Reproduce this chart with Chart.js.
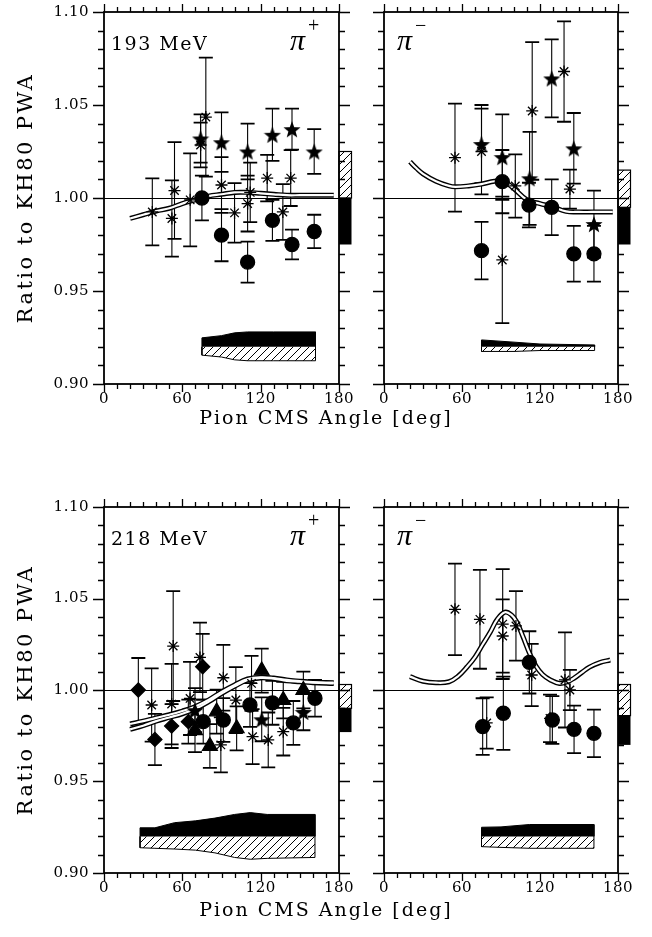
<!DOCTYPE html>
<html>
<head>
<meta charset="utf-8">
<script src="https://cdn.jsdelivr.net/npm/chart.js@4.4.1/dist/chart.umd.min.js"></script>
<style>
  body { margin: 0; background: #fff; }
  #page { position: relative; width: 652px; height: 937px; overflow: hidden; background: #fff; }
  canvas { position: absolute; }
  .xtitle { position: absolute; left: 0; width: 652px; text-align: center; font-family: "DejaVu Serif", serif; font-size: 19px; letter-spacing: 2px; color: #000; }
</style>
</head>
<body>
<div id="page">
  <canvas id="tl" width="362" height="440" style="left:0;top:0"></canvas>
  <canvas id="tr" width="290" height="440" style="left:362px;top:0"></canvas>
  <canvas id="bl" width="362" height="442" style="left:0;top:495px"></canvas>
  <canvas id="br" width="290" height="442" style="left:362px;top:495px"></canvas>
  <div class="xtitle" style="top:406px">Pion CMS Angle [deg]</div>
  <div class="xtitle" style="top:898px">Pion CMS Angle [deg]</div>
</div>
<script>
// axis ticks
var xMajor = [0, 60, 120, 180];
var yMajor = [0.90, 0.95, 1.00, 1.05, 1.10];
var bandBase = 0.92;

// ---- 193 MeV, pi+ ----
var tlStarX = [74, 90, 110, 129, 144, 161];
var tlStarY = [1.032, 1.030, 1.025, 1.034, 1.037, 1.025];
var tlStarE = [0.013, 0.016, 0.015, 0.014, 0.011, 0.012];
var tlCircX = [75, 90, 110, 129, 144, 161];
var tlCircY = [1.000, 0.980, 0.9655, 0.988, 0.975, 0.982];
var tlCircE = [0.012, 0.014, 0.011, 0.011, 0.008, 0.009];
var tlAstX = [37, 52, 54, 66, 74, 78, 90, 100, 110, 112, 125, 137, 143];
var tlAstY = [0.9925, 0.989, 1.004, 0.999, 1.0285, 1.0435, 1.007, 0.992, 0.997, 1.003, 1.0107, 0.9925, 1.0107];
var tlAstE = [0.018, 0.0205, 0.026, 0.025, 0.012, 0.032, 0.015, 0.016, 0.015, 0.016, 0.0125, 0.015, 0.015];
var tlCurveX = [20, 30, 40, 50, 60, 70, 80, 90, 100, 110, 120, 130, 140, 150, 160, 170, 176];
var tlCurveY = [0.989, 0.991, 0.993, 0.9945, 0.997, 0.999, 1.001, 1.002, 1.003, 1.003, 1.0025, 1.002, 1.0015, 1.0015, 1.0015, 1.0015, 1.0015];
var tlBandX = [75, 90, 100, 110, 130, 162];
var tlBlackTop = [0.9248, 0.926, 0.9275, 0.928, 0.928, 0.928];
var tlHatchBot = [0.9155, 0.9145, 0.913, 0.9125, 0.9125, 0.9125];
var tlSysHatch = [1.0, 1.025];
var tlSysBlack = [0.975, 1.0];

// ---- 193 MeV, pi- ----
var trStarX = [75, 91, 112, 129, 146, 161.5];
var trStarY = [1.029, 1.022, 1.0106, 1.0643, 1.0267, 0.986];
var trStarE = [0.021, 0.023, 0.025, 0.021, 0.019, 0.018];
var trCircX = [75, 91, 111.5, 129, 146, 161.5];
var trCircY = [0.9717, 1.0088, 0.9962, 0.995, 0.970, 0.970];
var trCircE = [0.0155, 0.017, 0.012, 0.015, 0.015, 0.015];
var trAstX = [54.6, 75, 91, 101, 114, 138.5, 143];
var trAstY = [1.0217, 1.025, 0.9667, 1.0065, 1.0468, 1.068, 1.0048];
var trAstE = [0.029, 0.023, 0.034, 0.017, 0.037, 0.027, 0.0105];
var trCurveX = [20, 25, 30, 40, 50, 55, 65, 75, 85, 92, 100, 110, 120, 130, 140, 150, 160, 176];
var trCurveY = [1.0195, 1.016, 1.013, 1.009, 1.0065, 1.006, 1.0065, 1.0075, 1.009, 1.009, 1.005, 0.999, 0.997, 0.9952, 0.9928, 0.9925, 0.9925, 0.9925];
var trBandX = [75, 100, 120, 162];
var trBlackTop = [0.9237, 0.9225, 0.9215, 0.921];
var trHatchBot = [0.9175, 0.9175, 0.918, 0.918];
var trSysHatch = [0.995, 1.015];
var trSysBlack = [0.975, 0.995];

// ---- 218 MeV, pi+ ----
var blDiaX = [26.3, 39, 51.8, 64.6, 75.6];
var blDiaY = [1.000, 0.973, 0.9803, 0.9827, 1.0127];
var blDiaE = [0.0175, 0.014, 0.012, 0.012, 0.018];
var blAstX = [36.5, 51.8, 53, 65.9, 73.5, 89.5, 91.4, 101, 113, 113.8, 125.8, 137.3];
var blAstY = [0.9918, 0.9923, 1.024, 0.9954, 1.0178, 0.970, 1.0067, 0.9945, 1.0036, 0.9745, 0.9727, 0.9772];
var blAstE = [0.02, 0.022, 0.030, 0.02, 0.019, 0.015, 0.018, 0.018, 0.015, 0.015, 0.015, 0.013];
var blTriX = [69.7, 81.1, 86.3, 101.6, 120.8, 137.3, 152.7];
var blTriY = [0.978, 0.9694, 0.9882, 0.979, 1.0106, 0.9945, 1.000];
var blTriE = [0.012, 0.012, 0.012, 0.012, 0.012, 0.010, 0.010];
var blCircX = [76, 91.4, 111.8, 129, 145, 161.6];
var blCircY = [0.9827, 0.9836, 0.9918, 0.993, 0.982, 0.9955];
var blCircE = [0.012, 0.012, 0.012, 0.012, 0.012, 0.010];
var blStarX = [69.7, 120.8, 152.7];
var blStarY = [0.989, 0.984, 0.988];
var blStarE = [0.012, 0.012, 0.010];
var blCurveX = [20, 30, 40, 50, 60, 70, 80, 90, 100, 110, 120, 130, 140, 150, 160, 176];
var blCurveY = [0.9814, 0.983, 0.9848, 0.9865, 0.9885, 0.991, 0.9945, 0.999, 1.0028, 1.006, 1.0069, 1.0065, 1.0055, 1.0048, 1.0043, 1.004];
var blCurve2Y = [0.9785, 0.9805, 0.983, 0.985, 0.987, 0.9897, 0.9935, 0.998, 1.002, 1.0055, 1.0066, 1.0062, 1.005, 1.0045, 1.004, 1.0036];
var blBandX = [27.6, 39, 54, 70, 85, 100, 112, 125, 161.6];
var blBlackTop = [0.9247, 0.9247, 0.9275, 0.9285, 0.930, 0.932, 0.933, 0.932, 0.932];
var blHatchBot = [0.9138, 0.9135, 0.9131, 0.9125, 0.911, 0.9085, 0.9075, 0.908, 0.9085];
var blSysHatch = [0.99, 1.003];
var blSysBlack = [0.977, 0.99];

// ---- 218 MeV, pi- ----
var brAstX = [54.6, 73.8, 79, 91.3, 91.3, 101.5, 113.6, 127.7, 139.2, 143];
var brAstY = [1.0441, 1.0386, 0.982, 1.036, 1.0295, 1.035, 1.0082, 0.9845, 1.0055, 1.000];
var brAstE = [0.025, 0.027, 0.014, 0.03, 0.02, 0.019, 0.017, 0.013, 0.026, 0.011];
var brCircX = [75.9, 91.8, 111.8, 129.5, 146.2, 161.5];
var brCircY = [0.980, 0.9873, 1.0151, 0.9836, 0.9785, 0.9763];
var brCircE = [0.0155, 0.02, 0.017, 0.013, 0.013, 0.013];
var brCurveX = [20, 30, 40, 50, 57, 64, 70, 76, 82, 87, 93, 98, 102, 107, 112, 117, 122, 128, 135, 141, 146, 152, 158, 166, 174];
var brCurveY = [1.0073, 1.0048, 1.004, 1.0045, 1.0075, 1.0127, 1.018, 1.025, 1.032, 1.0385, 1.0425, 1.041, 1.0373, 1.029, 1.020, 1.013, 1.0085, 1.0055, 1.0036, 1.0045, 1.0064, 1.0095, 1.0125, 1.015, 1.0164];
var brBandX = [75, 90, 112, 161.5];
var brBlackTop = [0.925, 0.9252, 0.9265, 0.9265];
var brHatchBot = [0.9144, 0.914, 0.9135, 0.9135];
var brSysHatch = [0.986, 1.003];
var brSysBlack = [0.97, 0.986];

function pts(xs, ys) {
  return xs.map(function (x, i) { return { x: x, y: ys[i] }; });
}

function makeStar(size) {
  var c = document.createElement("canvas");
  c.width = size;
  c.height = size;
  var g = c.getContext("2d");
  var cx = size / 2, cy = size / 2 + 1, ro = size / 2, ri = ro * 0.42;
  g.beginPath();
  for (var k = 0; k < 10; k++) {
    var r = k % 2 ? ri : ro;
    var a = -Math.PI / 2 + k * Math.PI / 5;
    g.lineTo(cx + r * Math.cos(a), cy + r * Math.sin(a));
  }
  g.closePath();
  g.fillStyle = "#000";
  g.fill();
  return c;
}

function makeHatch() {
  var c = document.createElement("canvas");
  c.width = 8;
  c.height = 8;
  var g = c.getContext("2d");
  g.strokeStyle = "#000";
  g.lineWidth = 1;
  g.beginPath();
  g.moveTo(0, 8); g.lineTo(8, 0);
  g.moveTo(-2, 2); g.lineTo(2, -2);
  g.moveTo(6, 10); g.lineTo(10, 6);
  g.stroke();
  return g.createPattern(c, "repeat");
}

var starImg = makeStar(18);
var hatch = makeHatch();

function markers(xs, ys, errs, style, radius) {
  return {
    data: pts(xs, ys), errs: errs, showLine: false,
    pointStyle: style, pointRadius: radius, pointHoverRadius: radius,
    pointBackgroundColor: "#000", pointBorderColor: "#000", pointBorderWidth: 1.3,
    order: 1
  };
}

function curve(xs, ys) {
  return [
    { data: pts(xs, ys), borderColor: "#000", borderWidth: 5, pointRadius: 0, tension: 0.4, fill: false, order: 20 },
    { data: pts(xs, ys), borderColor: "#fff", borderWidth: 2.2, pointRadius: 0, tension: 0.4, fill: false, order: 19 }
  ];
}

function band(xs, ys, color) {
  var d = [{ x: xs[0], y: bandBase }].concat(pts(xs, ys), [{ x: xs[xs.length - 1], y: bandBase }]);
  return { data: d, borderColor: "#000", borderWidth: 1, backgroundColor: color, fill: { value: bandBase }, pointRadius: 0, tension: 0, order: 30 };
}

var textFont = "'DejaVu Serif', serif";

var panelPlugin = {
  id: "panel",
  beforeDatasetsDraw: function (chart, args, opts) {
    var ctx = chart.ctx, a = chart.chartArea, xs = chart.scales.x, ys = chart.scales.y;
    ctx.save();
    ctx.strokeStyle = "#000";
    ctx.lineWidth = 1.2;
    var y1 = Math.round(ys.getPixelForValue(1.0)) + 0.5;
    ctx.beginPath();
    ctx.moveTo(a.left, y1);
    ctx.lineTo(a.right, y1);
    ctx.stroke();
    // error bars
    ctx.lineWidth = 1.1;
    chart.data.datasets.forEach(function (ds) {
      if (!ds.errs) return;
      ds.data.forEach(function (p, i) {
        var x = xs.getPixelForValue(p.x);
        var yt = ys.getPixelForValue(p.y + ds.errs[i]);
        var yb = ys.getPixelForValue(p.y - ds.errs[i]);
        ctx.beginPath();
        ctx.moveTo(x, yt); ctx.lineTo(x, yb);
        ctx.stroke();
        ctx.save();
        ctx.lineWidth = 1.8;
        ctx.beginPath();
        ctx.moveTo(x - 7, yt); ctx.lineTo(x + 7, yt);
        ctx.moveTo(x - 7, yb); ctx.lineTo(x + 7, yb);
        ctx.stroke();
        ctx.restore();
      });
    });
    ctx.restore();
  },
  afterDraw: function (chart, args, opts) {
    var ctx = chart.ctx, a = chart.chartArea, xs = chart.scales.x, ys = chart.scales.y;
    ctx.save();
    ctx.strokeStyle = "#000";
    ctx.fillStyle = "#000";

    // systematic boxes at 180 deg
    var bx0 = xs.getPixelForValue(180), bx1 = bx0 + 12.5;
    var hy0 = ys.getPixelForValue(opts.sysHatch[1]), hy1 = ys.getPixelForValue(opts.sysHatch[0]);
    ctx.fillStyle = "#fff";
    ctx.fillRect(bx0, hy0, bx1 - bx0, hy1 - hy0);
    ctx.fillStyle = hatch;
    ctx.fillRect(bx0, hy0, bx1 - bx0, hy1 - hy0);
    ctx.lineWidth = 1.2;
    ctx.strokeRect(bx0, hy0, bx1 - bx0, hy1 - hy0);
    var ky0 = ys.getPixelForValue(opts.sysBlack[1]), ky1 = ys.getPixelForValue(opts.sysBlack[0]);
    ctx.fillStyle = "#000";
    ctx.fillRect(bx0, ky0, bx1 - bx0, ky1 - ky0);

    // frame
    ctx.lineWidth = 1.8;
    ctx.strokeRect(a.left, a.top, a.right - a.left, a.bottom - a.top);

    // ticks, outward on all sides
    ctx.lineWidth = 1.3;
    ctx.beginPath();
    for (var d = 0; d <= 180; d += 10) {
      var px = Math.round(xs.getPixelForValue(d)) + 0.5;
      var len = d % 60 === 0 ? 8 : 5;
      ctx.moveTo(px, a.bottom); ctx.lineTo(px, a.bottom + len);
      ctx.moveTo(px, a.top); ctx.lineTo(px, a.top - len);
    }
    for (var k = 0; k <= 20; k++) {
      var py = Math.round(ys.getPixelForValue(0.90 + k * 0.01)) + 0.5;
      var ylen = k % 5 === 0 ? 11 : 6;
      ctx.moveTo(a.left - ylen, py); ctx.lineTo(a.left, py);
      ctx.moveTo(a.right, py); ctx.lineTo(a.right + ylen, py);
    }
    ctx.stroke();

    // tick labels
    ctx.fillStyle = "#000";
    ctx.font = "15px " + textFont;
    ctx.letterSpacing = "0.5px";
    ctx.textAlign = "center";
    ctx.textBaseline = "top";
    xMajor.forEach(function (v) {
      ctx.fillText(String(v), xs.getPixelForValue(v), a.bottom + 8);
    });
    if (opts.yLabels) {
      ctx.textAlign = "right";
      ctx.textBaseline = "middle";
      yMajor.forEach(function (v) {
        ctx.fillText(v.toFixed(2), a.left - 15, ys.getPixelForValue(v));
      });
      ctx.save();
      ctx.translate(27, (a.top + a.bottom) / 2);
      ctx.rotate(-Math.PI / 2);
      ctx.textAlign = "center";
      ctx.textBaseline = "middle";
      ctx.font = "21px " + textFont;
      ctx.letterSpacing = "2.5px";
      ctx.fillText("Ratio to KH80 PWA", 0, 0);
      ctx.restore();
    }

    // in-panel labels
    ctx.textBaseline = "alphabetic";
    ctx.textAlign = "left";
    if (opts.energy) {
      ctx.font = "19px " + textFont;
      ctx.letterSpacing = "1.5px";
      ctx.fillText(opts.energy, a.left + 7, a.top + 38);
    }
    ctx.letterSpacing = "0px";
    ctx.font = "italic 30px 'Liberation Serif', serif";
    ctx.fillText("\u03c0", a.left + opts.piX, a.top + 38);
    ctx.font = "20px 'Liberation Serif', serif";
    ctx.fillText(opts.charge, a.left + opts.piX + 18, a.top + 20);
    ctx.restore();
  }
};

function makePanel(id, pad, datasets, opts) {
  return new Chart(document.getElementById(id), {
    type: "line",
    data: { datasets: datasets },
    options: {
      responsive: false,
      animation: false,
      events: [],
      layout: { padding: pad },
      scales: {
        x: { type: "linear", min: 0, max: 180, display: false },
        y: { type: "linear", min: 0.90, max: 1.10, display: false }
      },
      plugins: { legend: { display: false }, tooltip: { enabled: false }, panel: opts }
    },
    plugins: [panelPlugin]
  });
}

makePanel("tl", { left: 104, right: 23, top: 12, bottom: 56 },
  [
    markers(tlStarX, tlStarY, tlStarE, starImg, 9),
    markers(tlCircX, tlCircY, tlCircE, "circle", 7),
    markers(tlAstX, tlAstY, tlAstE, "star", 6)
  ].concat(curve(tlCurveX, tlCurveY), [band(tlBandX, tlBlackTop, "#000"), band(tlBandX, tlHatchBot, hatch)]),
  { yLabels: true, energy: "193 MeV", piX: 186, charge: "+", sysHatch: tlSysHatch, sysBlack: tlSysBlack });

makePanel("tr", { left: 22, right: 34, top: 12, bottom: 56 },
  [
    markers(trStarX, trStarY, trStarE, starImg, 9),
    markers(trCircX, trCircY, trCircE, "circle", 7),
    markers(trAstX, trAstY, trAstE, "star", 6)
  ].concat(curve(trCurveX, trCurveY), [band(trBandX, trBlackTop, "#000"), band(trBandX, trHatchBot, hatch)]),
  { yLabels: false, energy: "", piX: 13, charge: "\u2212", sysHatch: trSysHatch, sysBlack: trSysBlack });

makePanel("bl", { left: 104, right: 23, top: 12, bottom: 64 },
  [
    markers(blStarX, blStarY, blStarE, starImg, 9),
    markers(blCircX, blCircY, blCircE, "circle", 7),
    markers(blTriX, blTriY, blTriE, "triangle", 8.5),
    markers(blDiaX, blDiaY, blDiaE, "rectRot", 7),
    markers(blAstX, blAstY, blAstE, "star", 6)
  ].concat(curve(blCurveX, blCurveY), curve(blCurveX, blCurve2Y), [band(blBandX, blBlackTop, "#000"), band(blBandX, blHatchBot, hatch)]),
  { yLabels: true, energy: "218 MeV", piX: 186, charge: "+", sysHatch: blSysHatch, sysBlack: blSysBlack });

makePanel("br", { left: 22, right: 34, top: 12, bottom: 64 },
  [
    markers(brCircX, brCircY, brCircE, "circle", 7),
    markers(brAstX, brAstY, brAstE, "star", 6)
  ].concat(curve(brCurveX, brCurveY), [band(brBandX, brBlackTop, "#000"), band(brBandX, brHatchBot, hatch)]),
  { yLabels: false, energy: "", piX: 13, charge: "\u2212", sysHatch: brSysHatch, sysBlack: brSysBlack });
</script>
</body>
</html>
